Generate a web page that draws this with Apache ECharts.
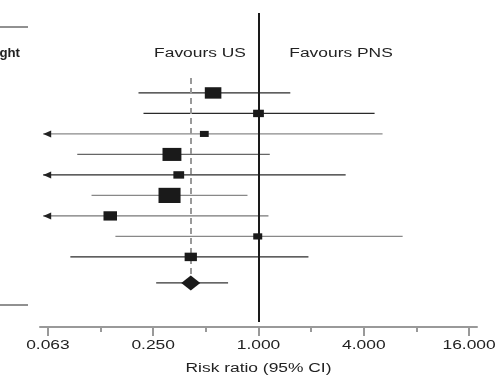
<!DOCTYPE html>
<html>
<head>
<meta charset="utf-8">
<script src="https://cdn.jsdelivr.net/npm/echarts@6/dist/echarts.min.js"></script>
<style>
  html, body { margin: 0; padding: 0; background: #fff; }
  #chart { width: 500px; height: 380px; }
</style>
</head>
<body>
<div id="chart"></div>
<script>
// risk ratios per study (top to bottom), 95% CI bounds, and weights (%)
const riskRatio = [0.55, 1.0, 0.49, 0.32, 0.35, 0.31, 0.142, 0.99, 0.41]
const lower = [0.206, 0.22, 0.04, 0.092, 0.04, 0.111, 0.04, 0.152, 0.084]
const upper = [1.52, 4.61, 5.12, 1.16, 3.15, 0.865, 1.14, 6.67, 1.93]
const weights = [14.9, 6.3, 4.2, 19.4, 6.3, 26.4, 9.9, 4.4, 8.2]

// pooled estimate
const pooledRR = 0.41
const pooledLower = 0.26
const pooledUpper = 0.67

// axis ticks (risk ratio scale, log2)
const majorTicks = [0.0625, 0.25, 1, 4, 16]
const minorTicks = [0.125, 0.5, 2, 8]

// line tone per row (dark / light)
const rowTone = ['#2a2a2a', '#2a2a2a', '#8a8a8a', '#666', '#2a2a2a', '#888', '#777', '#888', '#2a2a2a']

const xMin = -4.15, xMax = 4.15
const font = 'Liberation Sans'
const stretch = 1.45 // the original figure is stretched horizontally
const log2 = v => Math.log2(v)
const pooledY = 10.27

const ciData = riskRatio.map((_, i) => {
  const lo = log2(lower[i])
  const clipped = lo < xMin ? 1 : 0
  return [clipped ? -4.09 : lo, log2(upper[i]), i + 1, clipped, i]
})
ciData.push([log2(pooledLower), log2(pooledUpper), pooledY, 0, -1])

const boxData = riskRatio.map((v, i) => [log2(v), i + 1, weights[i]])

const chart = echarts.init(document.getElementById('chart'))
chart.setOption({
  animation: false,
  grid: { left: 40, right: 23, top: 13, bottom: 53 },
  xAxis: [{
    type: 'value', min: xMin, max: xMax, position: 'bottom',
    axisLine: { onZero: false, lineStyle: { color: '#999', width: 2 } },
    axisTick: { customValues: majorTicks.map(log2), length: 9, lineStyle: { color: '#999', width: 2 } },
    axisLabel: { show: false },
    splitLine: { show: false }
  }, {
    type: 'value', min: xMin, max: xMax, position: 'bottom', offset: 0,
    axisLine: { show: false, onZero: false },
    axisTick: { customValues: minorTicks.map(log2), length: 5, lineStyle: { color: '#999', width: 2 } },
    axisLabel: { show: false },
    splitLine: { show: false }
  }],
  yAxis: { type: 'value', min: -2.9, max: 12.42, inverse: true, show: false },
  series: [{
    type: 'custom',
    data: ciData,
    encode: { x: [0, 1], y: 2 },
    renderItem: (params, api) => {
      const p1 = api.coord([api.value(0), api.value(2)])
      const p2 = api.coord([api.value(1), api.value(2)])
      const idx = api.value(4)
      const color = idx < 0 ? '#333' : rowTone[idx]
      const children = [{
        type: 'line',
        shape: { x1: p1[0], y1: p1[1], x2: p2[0], y2: p2[1] },
        style: { stroke: color, lineWidth: 1.3 }
      }]
      if (api.value(3)) {
        children.push({
          type: 'polygon',
          shape: { points: [[p1[0], p1[1]], [p1[0] + 8, p1[1] - 3.5], [p1[0] + 8, p1[1] + 3.5]] },
          style: { fill: '#222' }
        })
      }
      return { type: 'group', children }
    },
    markLine: {
      silent: true, symbol: 'none', label: { show: false },
      data: [
        [{ coord: [0, -2.9], lineStyle: { color: '#1a1a1a', width: 2, type: 'solid' } }, { coord: [0, 12.17] }],
        [{ coord: [log2(pooledRR), 0.27], lineStyle: { color: '#999', width: 2, type: [6, 4] } }, { coord: [log2(pooledRR), pooledY] }]
      ]
    }
  }, {
    type: 'scatter',
    data: boxData,
    symbol: 'rect',
    symbolSize: v => {
      const area = v[2] * 12.7
      const h = Math.sqrt(area / 1.45)
      return [h * 1.45, h]
    },
    itemStyle: { color: '#1a1a1a', opacity: 1 },
    z: 5
  }, {
    type: 'scatter',
    data: [[log2(pooledRR), pooledY]],
    symbol: 'diamond',
    symbolSize: [19, 15],
    itemStyle: { color: '#1a1a1a', opacity: 1 },
    z: 5
  }]
})

// stretched text: tick labels placed through the axis scale
function label(text, x, y, opts = {}) {
  return {
    type: 'text', x, y, scaleX: opts.scaleX || stretch, z: 10,
    style: {
      text, x: 0, y: 0,
      align: opts.align || 'center', verticalAlign: 'middle',
      font: (opts.bold ? 'bold ' : '') + '12px ' + font,
      fill: '#222'
    }
  }
}
const axisY = chart.getHeight() - 53
const tickLabels = majorTicks.map(v =>
  label(v.toFixed(3), chart.convertToPixel({ xAxisIndex: 0 }, log2(v)), axisY + 19))
const centerX = chart.convertToPixel({ xAxisIndex: 0 }, 0)

chart.setOption({
  graphic: [
    { type: 'line', shape: { x1: 0, y1: 27, x2: 28, y2: 27 }, style: { stroke: '#222', lineWidth: 1 } },
    { type: 'line', shape: { x1: 0, y1: 305, x2: 28, y2: 305 }, style: { stroke: '#222', lineWidth: 1 } },
    label('ght', 20, 54, { align: 'right', bold: true, scaleX: 1.1 }),
    label('Favours US', 200, 54),
    label('Favours PNS', 341, 54),
    label('Risk ratio (95% CI)', centerX, axisY + 42),
    ...tickLabels
  ]
})
</script>
</body>
</html>
